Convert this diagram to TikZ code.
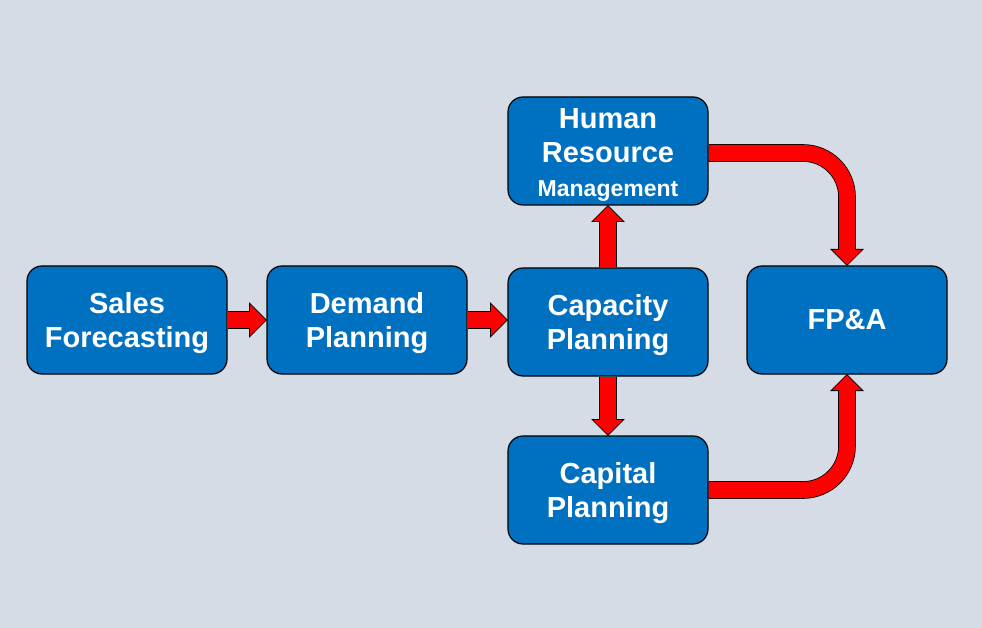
\documentclass[tikz,border=0pt]{standalone}
\usepackage{fontspec}
\setmainfont{Liberation Sans}
\usetikzlibrary{calc,backgrounds}
\definecolor{bgc}{HTML}{D6DCE5}
\definecolor{boxblue}{HTML}{0070C0}
\definecolor{arrred}{HTML}{FF0000}
\newcommand\toppad{\rule{0pt}{27pt}}
\tikzset{
  box/.style={draw=black, line width=1.2pt, fill=boxblue, rounded corners=15pt,
    minimum width=200pt, minimum height=108pt, align=center, text=white,
    font=\fontsize{29}{34}\selectfont\bfseries, inner sep=0pt},
  shaftout/.style={draw=black, line width=17.6pt},
  shaftin/.style={draw=arrred, line width=16pt},
  headtip/.style={fill=arrred, draw=black, line width=0.8pt, line join=miter},
}
\begin{document}
\begin{tikzpicture}[x=1pt,y=-1pt]
\useasboundingbox (0,0) rectangle (982,628);
\node[box] (sf) at (127,320) {\toppad Sales\\Forecasting};
\node[box] (dp) at (367,320) {\toppad Demand\\Planning};
\node[box] (cp) at (608,322) {\toppad Capacity\\Planning};
\node[box] (hr) at (608,151) {\toppad Human\\Resource\\{\fontsize{23}{31}\selectfont Management}};
\node[box] (ca) at (608,490) {\toppad Capital\\Planning};
\node[box] (fp) at (847,320) {FP\&A};
\begin{pgfonlayer}{background}
\fill[bgc] (0,0) rectangle (982,628);
% Sales -> Demand
\draw[shaftout] (sf.east) -- ($(dp.west)+(-16,0)$);
\draw[headtip] (dp.west) -- ++(-17,-17) -- ++(0,34) -- cycle;
\draw[shaftin] (sf.east) -- ($(dp.west)+(-15,0)$);
% Demand -> Capacity
\coordinate (dpc) at (dp.east -| cp.west);
\draw[shaftout] (dp.east) -- ($(dpc)+(-16,0)$);
\draw[headtip] (dpc) -- ++(-17,-17) -- ++(0,34) -- cycle;
\draw[shaftin] (dp.east) -- ($(dpc)+(-15,0)$);
% Capacity -> HR
\draw[shaftout] (cp.north) -- ($(hr.south)+(0,16)$);
\draw[headtip] (hr.south) -- ++(-16,16) -- ++(32,0) -- cycle;
\draw[shaftin] (cp.north) -- ($(hr.south)+(0,15)$);
% Capacity -> Capital
\draw[shaftout] (cp.south) -- ($(ca.north)+(0,-16)$);
\draw[headtip] (ca.north) -- ++(-16,-16) -- ++(32,0) -- cycle;
\draw[shaftin] (cp.south) -- ($(ca.north)+(0,-15)$);
% HR -> FP&A
\coordinate (hrs) at ([yshift=-2pt]hr.east);
\draw[shaftout, rounded corners=44pt] (hrs) -- (fp.north |- hrs) -- ($(fp.north)+(0,-16)$);
\draw[headtip] (fp.north) -- ++(-16,-16) -- ++(32,0) -- cycle;
\draw[shaftin, rounded corners=44pt] (hrs) -- (fp.north |- hrs) -- ($(fp.north)+(0,-15)$);
% Capital -> FP&A
\draw[shaftout, rounded corners=44pt] (ca.east) -- (fp.south |- ca.east) -- ($(fp.south)+(0,16)$);
\draw[headtip] (fp.south) -- ++(-16,16) -- ++(32,0) -- cycle;
\draw[shaftin, rounded corners=44pt] (ca.east) -- (fp.south |- ca.east) -- ($(fp.south)+(0,15)$);
\end{pgfonlayer}
\end{tikzpicture}
\end{document}
